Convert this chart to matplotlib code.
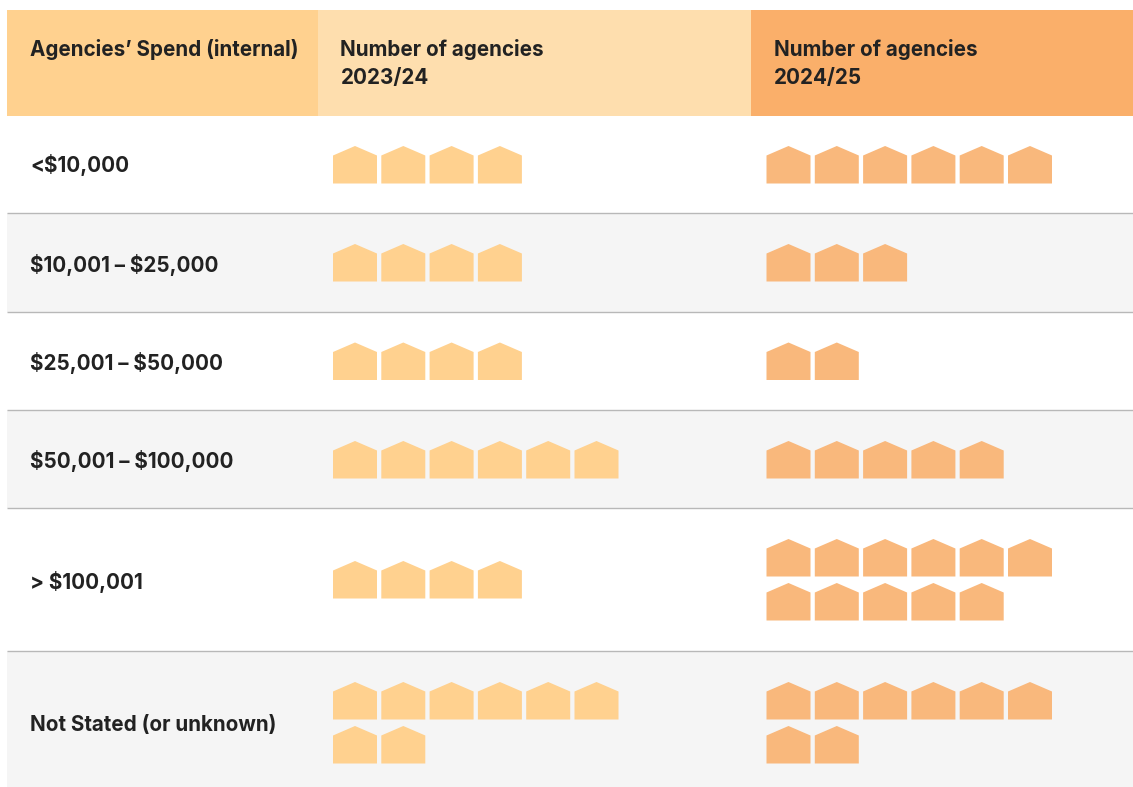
import matplotlib
matplotlib.use("Agg")
import matplotlib.pyplot as plt
from matplotlib.patches import Rectangle, Polygon

W, H = 1133, 787
categories = ["<$10,000", "$10,001 – $25,000", "$25,001 – $50,000",
              "$50,001 – $100,000", "> $100,001", "Not Stated (or unknown)"]
counts_2324 = [4, 4, 4, 6, 4, 8]
counts_2425 = [6, 3, 2, 5, 11, 8]
headers = [["Agencies’ Spend (internal)"], ["Number of agencies", "2023/24"], ["Number of agencies", "2024/25"]]

row_edges = [116, 213, 312, 410, 508, 651, 787]
label_y = [165.5, 265, 363, 461, 582, 725]
icon_top = [146, 244, 342.5, 441, 561, 682]
TEXT = "#222222"
FONT = "Inter"
SIZE = 14.85

fig = plt.figure(figsize=(W / 100, H / 100), dpi=100)
ax = fig.add_axes([0, 0, 1, 1])
ax.set_xlim(0, W)
ax.set_ylim(H, 0)
ax.axis("off")

# header bands
ax.add_patch(Rectangle((7, 10), 311, 106, fc="#FFD18F", ec="none"))
ax.add_patch(Rectangle((318, 10), 433, 106, fc="#FEDEAE", ec="none"))
ax.add_patch(Rectangle((751, 10), 382, 106, fc="#FAAF6A", ec="none"))

for x, lines in zip([30, 340.5, 774], headers):
    for j, line in enumerate(lines):
        ax.text(x, 49.5 + j * 29, line, fontsize=SIZE, fontweight="bold", family=FONT, color=TEXT,
                va="center", ha="left", parse_math=False)

# rows
for i, cat in enumerate(categories):
    if i % 2 == 1:
        ax.add_patch(Rectangle((7, row_edges[i]), W - 7, row_edges[i + 1] - row_edges[i],
                               fc="#F5F5F5", ec="none"))
    if i < len(categories) - 1:
        ax.plot([7, W], [row_edges[i + 1] - 0.5] * 2, color="#B8B8B8", lw=1.0, solid_capstyle="butt", zorder=3)
    ax.text(30, label_y[i], cat, fontsize=SIZE, fontweight="bold", family=FONT, color=TEXT,
            va="center", ha="left", parse_math=False)


def draw_icons(x0, top, n, color):
    for k in range(n):
        col, row = k % 6, k // 6
        x = x0 + col * 48.3
        y = top + row * 44
        ax.add_patch(Polygon([(x, y + 9.5), (x + 22, y), (x + 44, y + 9.5),
                              (x + 44, y + 37.5), (x, y + 37.5)],
                             closed=True, fc=color, ec="none"))


for i in range(len(categories)):
    draw_icons(333, icon_top[i], counts_2324[i], "#FFD18F")
    draw_icons(766.5, icon_top[i] if i != 4 else icon_top[i] - 22, counts_2425[i], "#F9B87C")

fig.savefig("out.png", dpi=100)
